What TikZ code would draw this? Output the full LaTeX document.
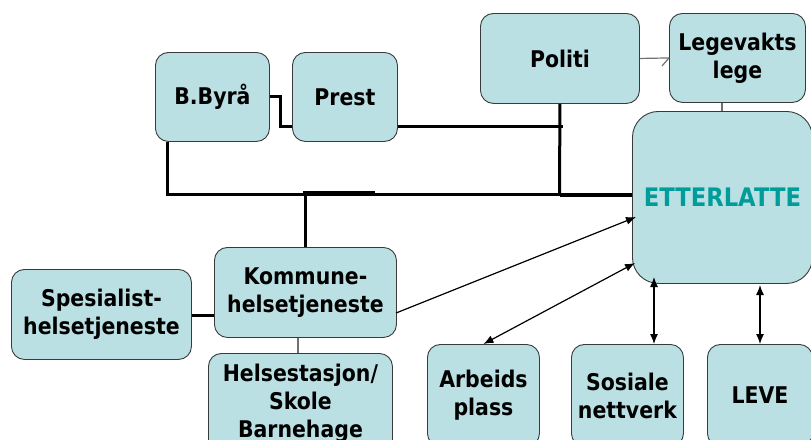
\documentclass[tikz,border=0pt]{standalone}
\usepackage{fontspec}
\newfontfamily\lbl{DejaVu Sans}[FakeStretch=0.89]
\usetikzlibrary{arrows.meta,calc}
\definecolor{boxfill}{HTML}{BAE0E3}
\definecolor{boxline}{HTML}{3A3A3A}
\definecolor{tealtxt}{HTML}{009C99}
\definecolor{linkgray}{HTML}{707070}
\tikzset{
  box/.style={draw=boxline, line width=0.9pt, fill=boxfill, rounded corners=13pt,
    anchor=north west, align=center, inner sep=0pt,
    font=\lbl\bfseries\fontsize{23}{28}\selectfont},
  conn/.style={line width=3pt, black},
  graylink/.style={line width=1.2pt, linkgray},
  arr/.style={line width=1.2pt, black, -{Latex[length=10pt,width=8pt]}},
  darr/.style={line width=1.2pt, black, {Latex[length=10pt,width=8pt]}-{Latex[length=10pt,width=8pt]}},
}
\begin{document}
\begin{tikzpicture}[x=1pt,y=-1pt]
\useasboundingbox (0,0) rectangle (811,439);
% nodes
\node[box, minimum width=114pt, minimum height=89pt] (byra) at (155,52) {B.Byrå};
\node[box, minimum width=105pt, minimum height=89pt] (prest) at (292,52) {Prest};
\node[box, minimum width=159pt, minimum height=90pt] (politi) at (480,13) {Politi};
\node[box, minimum width=136pt, minimum height=89pt] (lege) at (669,13) {Legevakts\\lege};
\node[box, minimum width=180pt, minimum height=172pt, rounded corners=26pt,
      text=tealtxt, font=\lbl\bfseries\fontsize{25.5}{30}\selectfont] (etter) at (632,111) {ETTERLATTE};
\node[box, minimum width=182pt, minimum height=90pt] (kommune) at (214,247) {Kommune-\\helsetjeneste};
\node[box, minimum width=180pt, minimum height=90pt] (spes) at (11,269) {Spesialist-\\helsetjeneste};
\node[box, minimum width=184pt, minimum height=100pt] (helse) at (208,353) {Helsestasjon/\\Skole\\Barnehage};
\node[box, minimum width=112pt, minimum height=102pt] (arbeid) at (427,344) {Arbeids\\plass};
\node[box, minimum width=112pt, minimum height=102pt] (sosial) at (571,344) {Sosiale\\nettverk};
\node[box, minimum width=105pt, minimum height=102pt] (leve) at (707,344) {LEVE};
% bend points
\coordinate (b1) at (280,126);
\coordinate (pr) at (563,126);
\coordinate (pj) at (559.5,195);
\coordinate (bl) at (167,194);
\coordinate (kj) at (305,194);
\coordinate (ks) at (396,313);
\coordinate (ke) at (636,217);
\coordinate (ae) at (635,263);
\coordinate (st) at (654,277);
\coordinate (lt) at (760,285);
% thick network
\draw[conn] (byra.east) -| (b1) -- (prest.west |- b1);
\draw[conn] (prest.east |- b1) -- (pr);
\draw[conn] (byra.south -| bl) -- (bl) -- (etter.west |- bl);
\draw[conn] (politi.south) -- (pj);
\draw[line width=4.5pt] (pj) -- (etter.west |- pj);
\draw[line width=4pt] (303,192.5) -- (375,192.5);
\draw[conn] (kommune.north) -- (kommune.north |- kj);
\draw[conn] (spes.east |- 0,315) -- (kommune.west |- 0,315);
% gray links
\draw[graylink] (helse.north -| 298,0) -- (kommune.south -| 298,0);
\draw[graylink] (politi.east) -- (lege.west);
\draw[graylink] (lege.west) -- ++(-7,8);
\draw[graylink] (lege.south -| 722,0) -- (etter.north -| 722,0);
% arrows
\draw[arr] (ks) -- (ke);
\draw[darr] (ae) -- (arbeid.north);
\draw[darr] (st) -- (sosial.north -| st);
\draw[darr] (lt) -- (leve.north -| lt);
\end{tikzpicture}
\end{document}
